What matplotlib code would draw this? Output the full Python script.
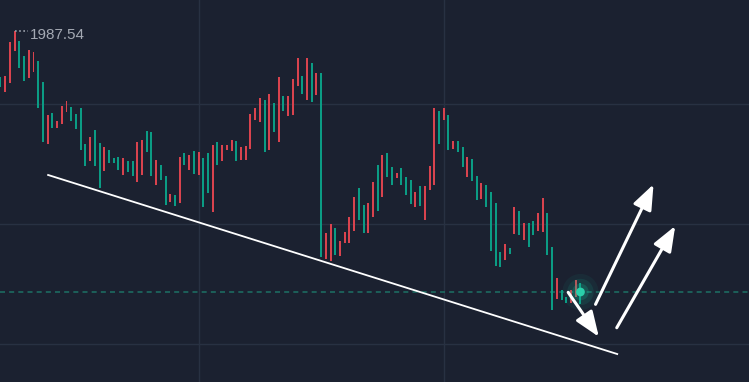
import matplotlib
matplotlib.use("Agg")
import matplotlib.pyplot as plt
import numpy as np

# candle opens / closes (price), oldest first
opens = [1983.70, 1982.45, 1983.20, 1985.87, 1986.70, 1985.45, 1983.62, 1984.12, 1985.04, 1983.29,
         1978.12, 1980.70, 1979.45, 1979.79, 1980.79, 1981.20, 1980.62, 1981.12, 1978.12, 1976.70,
         1979.29, 1978.20, 1975.87, 1977.62, 1976.95, 1977.04, 1975.54, 1976.70, 1976.70, 1974.95,
         1975.54, 1979.20, 1979.12, 1974.70, 1976.37, 1975.45, 1973.29, 1973.87, 1973.20, 1977.37,
         1975.95, 1977.54, 1975.54, 1976.95, 1977.37, 1972.45, 1978.29, 1976.70, 1977.62, 1977.54,
         1978.37, 1976.79, 1976.79, 1977.70, 1980.12, 1979.95, 1981.79, 1977.62, 1981.54, 1978.29,
         1982.12, 1980.45, 1980.54, 1982.95, 1983.79, 1981.79, 1984.87, 1982.20, 1984.04, 1968.54,
         1968.37, 1971.12, 1968.79, 1969.87, 1969.87, 1970.87, 1974.45, 1973.04, 1970.70, 1972.04,
         1976.37, 1973.70, 1977.37, 1976.20, 1975.29, 1976.12, 1975.37, 1975.12, 1972.87, 1974.62,
         1971.79, 1974.29, 1974.70, 1980.87, 1980.12, 1980.54, 1977.70, 1978.37, 1977.87, 1975.37,
         1976.87, 1975.45, 1973.54, 1974.70, 1974.12, 1973.20, 1969.12, 1968.45, 1969.45, 1970.62,
         1972.54, 1970.12, 1971.54, 1971.70, 1970.87, 1970.79, 1972.37, 1969.54, 1965.20, 1965.95,
         1965.37, 1964.87, 1965.37, 1966.54]
closes = [1982.87, 1983.79, 1986.62, 1987.54, 1984.45, 1983.37, 1985.95, 1985.79, 1981.12, 1978.29,
          1980.54, 1979.45, 1980.04, 1981.29, 1981.70, 1980.04, 1979.37, 1977.62, 1976.29, 1978.70,
          1976.29, 1974.45, 1977.87, 1976.54, 1976.54, 1975.95, 1976.95, 1975.79, 1975.45, 1978.29,
          1978.45, 1977.45, 1975.45, 1976.79, 1975.12, 1973.04, 1973.95, 1972.95, 1977.04, 1976.37,
          1977.20, 1975.62, 1977.45, 1972.87, 1974.04, 1978.04, 1976.37, 1978.04, 1978.04, 1978.45,
          1976.70, 1977.87, 1977.95, 1980.62, 1981.12, 1981.95, 1977.45, 1982.29, 1979.12, 1983.70,
          1980.87, 1982.12, 1983.54, 1985.29, 1982.29, 1985.29, 1981.62, 1984.04, 1968.70, 1970.70,
          1971.45, 1968.87, 1970.04, 1970.79, 1972.04, 1973.70, 1971.79, 1970.70, 1973.20, 1974.95,
          1972.54, 1977.20, 1975.37, 1974.70, 1975.70, 1974.70, 1973.87, 1973.12, 1974.12, 1972.95,
          1974.62, 1976.29, 1981.12, 1978.12, 1981.12, 1977.62, 1978.37, 1977.45, 1976.20, 1977.04,
          1975.04, 1973.45, 1974.87, 1972.87, 1969.20, 1967.95, 1967.87, 1969.79, 1968.95, 1972.87,
          1970.54, 1971.54, 1969.54, 1970.54, 1972.37, 1973.62, 1968.87, 1964.29, 1966.95, 1965.12,
          1964.87, 1965.95, 1966.79, 1964.79]

high_label = "1987.54"
high_idx = 3
last_price = 1965.79

grid_prices = [1981.45, 1971.45, 1961.45]
grid_idx = [42, 94]

# drawings (candle index, price)
trend = [(10.1, 1975.54), (130.8, 1960.62)]
arrows = [((120.4, 1965.76), (126.9, 1962.06)),
          ((126.2, 1964.76), (138.5, 1974.76)),
          ((130.7, 1962.81), (143.1, 1971.29))]

bg = "#1b2130"
up_col = "#d9434e"
dn_col = "#0b9c84"

fig = plt.figure(figsize=(7.49, 3.82), dpi=100)
fig.patch.set_facecolor(bg)
ax = fig.add_axes([0, 0, 1, 1])
ax.set_facecolor(bg)

for p in grid_prices:
    ax.axhline(p, color="#283142", lw=1, zorder=0)
for g in grid_idx:
    ax.axvline(g, color="#283142", lw=1, zorder=0)

o = np.array(opens)
c = np.array(closes)
idx = np.arange(len(o))
cols = [up_col if cc >= oo else dn_col for oo, cc in zip(o, c)]
ax.bar(idx, np.maximum(np.abs(c - o), 0.25), bottom=np.minimum(o, c),
       width=0.42, color=cols, zorder=2)

# current price line + glow
ax.axhline(last_price, color="#1d6b61", lw=1.2, ls=(0, (3, 2.5)), zorder=1)
for r, a in [(26, 0.07), (19, 0.12), (12, 0.22)]:
    ax.scatter([idx[-1]], [last_price], s=r ** 2, color="#17b897", alpha=a,
               edgecolors="none", zorder=3)
ax.scatter([idx[-1]], [last_price], s=40, color="#2ad0aa", edgecolors="none", zorder=4)

# high marker
ax.plot([high_idx + 0.1, high_idx + 2.8], [closes[high_idx]] * 2, color="#9aa0ab",
        lw=1.2, ls=(0, (1, 1.5)), zorder=3)
ax.text(high_idx + 3.3, closes[high_idx] - 0.35, high_label, color="#a4a9b3",
        fontsize=11, family="Liberation Sans", va="center", ha="left")

# trend line and arrows
ax.plot([trend[0][0], trend[1][0]], [trend[0][1], trend[1][1]], color="white", lw=1.3, zorder=5)
for (x0, y0), (x1, y1) in arrows:
    ax.annotate("", xy=(x1, y1), xytext=(x0, y0),
                arrowprops=dict(arrowstyle="-|>,head_length=0.9,head_width=0.35",
                                color="white", lw=2.2, shrinkA=0, shrinkB=0,
                                mutation_scale=17), zorder=6)

ax.set_xlim(-0.106, 158.75)
ax.set_ylim(1958.29, 1990.12)
ax.axis("off")

fig.savefig("out.png", dpi=100, facecolor=bg)
